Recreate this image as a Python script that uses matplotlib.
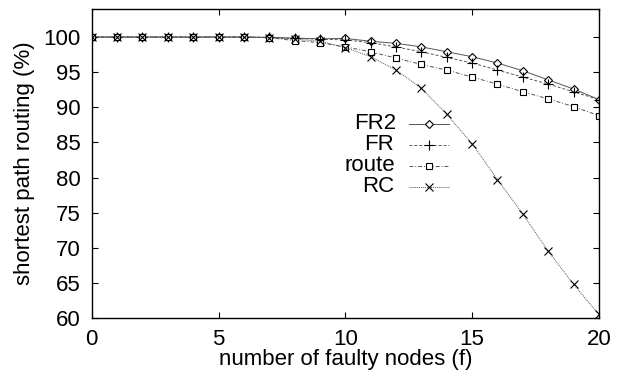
import numpy as np
import matplotlib
matplotlib.use("Agg")
import matplotlib.pyplot as plt

plt.rcParams['font.family'] = ['Liberation Sans', 'DejaVu Sans']

# number of faulty nodes
faulty = list(range(0, 21))

# shortest path routing (%) per scheme
fr2 = [100, 100, 100, 100, 100, 100, 100, 99.95, 99.85, 99.75, 99.8,
       99.4, 99.1, 98.6, 97.9, 97.2, 96.3, 95.2, 93.9, 92.6, 91.1]
fr = [100, 100, 100, 100, 100, 100, 100, 99.95, 99.8, 99.7, 99.6,
      99.2, 98.6, 97.9, 97.1, 96.3, 95.3, 94.3, 93.3, 92.2, 91.1]
route = [100, 100, 100, 100, 100, 100, 100, 99.9, 99.5, 99.2, 98.6,
         97.9, 97.0, 96.1, 95.3, 94.3, 93.3, 92.2, 91.2, 90.1, 88.8]
rc = [100, 100, 100, 100, 100, 100, 100, 99.9, 99.7, 99.4, 98.5,
      97.2, 95.3, 92.7, 89.0, 84.8, 79.7, 74.8, 69.5, 64.8, 60.5]

labels = ["FR2", "FR", "route", "RC"]

fig = plt.figure(figsize=(6.2, 3.73), dpi=100)
ax = fig.add_axes([0.148, 0.1475, 0.818, 0.8285])

col = '#555555'
h1, = ax.plot(faulty, fr2, color=col, lw=0.7, ls='-', marker='D', ms=4,
              mfc='white', mec='black', mew=0.8)
h2, = ax.plot(faulty, fr, color=col, lw=0.7, ls=(0, (3, 2)), marker='+', ms=7,
              mec='black', mew=0.8)
h3, = ax.plot(faulty, route, color=col, lw=0.7, ls=(0, (4, 2, 1, 2)), marker='s', ms=5,
              mfc='white', mec='black', mew=0.8)
h4, = ax.plot(faulty, rc, color=col, lw=0.7, ls=(0, (1, 1)), marker='x', ms=6,
              mec='black', mew=0.8)

ax.set_xlim(0, 20)
ax.set_ylim(60, 104)
ax.set_xticks([0, 5, 10, 15, 20])
ax.set_yticks(np.arange(60, 101, 5))
ax.tick_params(direction='in', top=True, right=True, length=4, width=0.8,
               labelsize=16)
ax.tick_params(axis='x', pad=8)
ax.tick_params(axis='y', pad=8)
for s in ax.spines.values():
    s.set_linewidth(1.0)

ax.set_xlabel("number of faulty nodes (f)", fontsize=16, labelpad=-1)
ax.set_ylabel("shortest path routing (%)", fontsize=16, labelpad=6)

# legend: handles from matplotlib, labels right-aligned to the left of them
leg = ax.legend([h1, h2, h3, h4], [''] * 4, loc='upper left',
                bbox_to_anchor=(0.625, 0.65), frameon=False, fontsize=14,
                handlelength=2.06, handletextpad=0, labelspacing=0.17,
                borderpad=0, borderaxespad=0)
fig.canvas.draw()
for line, lab in zip(leg.legend_handles, labels):
    bb = line.get_window_extent(fig.canvas.get_renderer())
    fig.text(bb.x0 - 10, (bb.y0 + bb.y1) / 2, lab, transform=None,
             ha='right', va='center', fontsize=16)

fig.savefig("out.png", dpi=100)
